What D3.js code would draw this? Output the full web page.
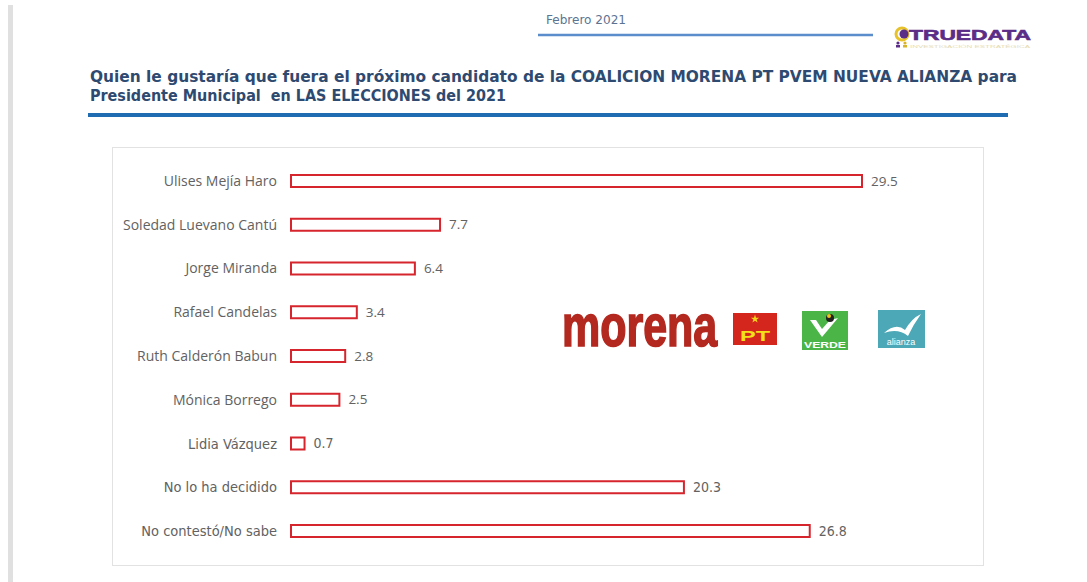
<!DOCTYPE html>
<html>
<head>
<meta charset="utf-8">
<script src="https://cdn.jsdelivr.net/npm/d3@7"></script>
<style>
  body { margin: 0; background: #fff; }
  svg { display: block; }
</style>
</head>
<body>
<svg width="1087" height="582"></svg>
<script>
var candidates = [
  "Ulises Mejía Haro",
  "Soledad Luevano Cantú",
  "Jorge Miranda",
  "Rafael Candelas",
  "Ruth Calderón Babun",
  "Mónica Borrego",
  "Lidia Vázquez",
  "No lo ha decidido",
  "No contestó/No sabe"
];
var percents = [29.5, 7.7, 6.4, 3.4, 2.8, 2.5, 0.7, 20.3, 26.8];
var narrowLabels = ["Lidia Vázquez", "No lo ha decidido", "No contestó/No sabe"];

var titleLines = [
  "Quien le gustaría que fuera el próximo candidato de la COALICION MORENA PT PVEM NUEVA ALIANZA para",
  "Presidente Municipal  en LAS ELECCIONES del 2021"
];

var dataset = candidates.map(function (c, i) {
  return {name: c, percent: percents[i]};
});

var wideFont = "'Open Sans', sans-serif";
var narrowFont = "'DejaVu Sans Condensed', sans-serif";
function isNarrow(name) { return narrowLabels.indexOf(name) >= 0; }

var svg = d3.select("svg");

// gray page edge on the left
svg.append("rect")
  .attr("x", 8).attr("y", 5)
  .attr("width", 5).attr("height", 577)
  .attr("fill", "#e0e0e0");

// header
svg.append("text")
  .attr("x", 546).attr("y", 24)
  .attr("font-family", narrowFont)
  .attr("font-size", 13)
  .attr("fill", "#5c7493")
  .attr("textLength", 80).attr("lengthAdjust", "spacingAndGlyphs")
  .text("Febrero 2021");

svg.append("line")
  .attr("x1", 538).attr("x2", 873)
  .attr("y1", 35).attr("y2", 35)
  .attr("stroke", "#5b8ccc").attr("stroke-width", 2.5);

// TRUEDATA logo
var logo = svg.append("g");
logo.append("circle").attr("cx", 902).attr("cy", 34).attr("r", 6)
  .attr("fill", "none").attr("stroke", "#e8c22a").attr("stroke-width", 3);
logo.append("circle").attr("cx", 904).attr("cy", 34).attr("r", 4.5)
  .attr("fill", "#5b2d86");
logo.append("text")
  .attr("x", 909).attr("y", 40)
  .attr("font-family", "'Liberation Sans', Arial, sans-serif")
  .attr("font-weight", "bold").attr("font-size", 15)
  .attr("fill", "#5b2d86")
  .attr("stroke", "#5b2d86").attr("stroke-width", 0.6)
  .attr("textLength", 122).attr("lengthAdjust", "spacingAndGlyphs")
  .text("TRUEDATA");
logo.append("circle").attr("cx", 898).attr("cy", 43).attr("r", 1.6).attr("fill", "#5b2d86");
logo.append("rect").attr("x", 896).attr("y", 45).attr("width", 4).attr("height", 2.5).attr("fill", "#5b2d86");
logo.append("circle").attr("cx", 905).attr("cy", 43).attr("r", 1.6).attr("fill", "#d9b32a");
logo.append("rect").attr("x", 903).attr("y", 45).attr("width", 4).attr("height", 2.5).attr("fill", "#d9b32a");
logo.append("text")
  .attr("x", 910).attr("y", 47.5)
  .attr("font-family", "'Liberation Sans', sans-serif")
  .attr("font-size", 4).attr("fill", "#e6dcb4")
  .attr("textLength", 120).attr("lengthAdjust", "spacingAndGlyphs")
  .text("INVESTIGACIÓN ESTRATÉGICA");

// title
svg.selectAll("text.title")
  .data(titleLines)
  .enter()
  .append("text")
  .attr("class", "title")
  .attr("x", 90)
  .attr("y", function (d, i) { return 82 + i * 19; })
  .attr("font-family", narrowFont)
  .attr("font-weight", "bold")
  .attr("font-size", 16)
  .attr("fill", "#2e4a70")
  .style("white-space", "pre")
  .attr("textLength", function (d, i) { return i === 0 ? 927 : 416; })
  .attr("lengthAdjust", "spacingAndGlyphs")
  .text(function (d) { return d; });

svg.append("line")
  .attr("x1", 88).attr("x2", 1008)
  .attr("y1", 115).attr("y2", 115)
  .attr("stroke", "#1f6cb3").attr("stroke-width", 4);

// chart frame
svg.append("rect")
  .attr("x", 112.5).attr("y", 147.5)
  .attr("width", 871).attr("height", 418)
  .attr("fill", "#fff")
  .attr("stroke", "#e2e2e2");

var x = d3.scaleLinear().domain([0, 29.5]).range([291, 862]);
var y = d3.scalePoint().domain(candidates).range([181, 531]);
var barH = 12;

var yAxis = d3.axisLeft(y).tickSize(0).tickPadding(14);
var axisG = svg.append("g")
  .attr("transform", "translate(291,0)")
  .call(yAxis);
axisG.select(".domain").remove();
axisG.selectAll("text")
  .attr("font-family", function (d) { return isNarrow(d) ? narrowFont : wideFont; })
  .attr("font-size", function (d) { return isNarrow(d) ? 14.5 : 14; })
  .attr("fill", "#626262");

svg.selectAll("rect.bar")
  .data(dataset)
  .enter()
  .append("rect")
  .attr("class", "bar")
  .attr("x", x(0))
  .attr("y", function (d) { return y(d.name) - barH / 2; })
  .attr("width", function (d) { return x(d.percent) - x(0); })
  .attr("height", barH)
  .attr("fill", "#fff")
  .attr("stroke", "#d6252d")
  .attr("stroke-width", 2);

svg.selectAll("text.value")
  .data(dataset)
  .enter()
  .append("text")
  .attr("class", "value")
  .attr("x", function (d) { return x(d.percent) + 9; })
  .attr("y", function (d) { return y(d.name); })
  .attr("dy", "0.35em")
  .attr("font-family", function (d) { return isNarrow(d.name) ? narrowFont : wideFont; })
  .attr("font-size", function (d) { return isNarrow(d.name) ? 14 : 13.5; })
  .attr("fill", "#626262")
  .text(function (d) { return d3.format(".1f")(d.percent); });

// party logos
var logos = svg.append("g");
logos.append("text")
  .attr("transform", "translate(562,346) scale(1,1.38)")
  .attr("font-family", "'Liberation Sans', sans-serif")
  .attr("font-weight", "bold")
  .attr("font-size", 43)
  .attr("fill", "#b3281f")
  .attr("stroke", "#b3281f").attr("stroke-width", 1.2)
  .text("morena");

logos.append("rect").attr("x", 733).attr("y", 313).attr("width", 44).attr("height", 32).attr("fill", "#d4261c");
logos.append("path")
  .attr("d", d3.symbol().type(d3.symbolStar).size(22)())
  .attr("transform", "translate(755,319)")
  .attr("fill", "#f4d51a");
logos.append("text")
  .attr("x", 755).attr("y", 341)
  .attr("text-anchor", "middle")
  .attr("font-family", "'Liberation Sans', sans-serif")
  .attr("font-weight", "bold").attr("font-size", 15)
  .attr("fill", "#f4e01a")
  .attr("textLength", 30).attr("lengthAdjust", "spacingAndGlyphs")
  .text("PT");

logos.append("rect").attr("x", 802).attr("y", 311).attr("width", 46).attr("height", 39).attr("fill", "#4bb548");
logos.append("path")
  .attr("d", "M810,320 L822,337 L838,318 L830,320 L822,329 L816,320 Z")
  .attr("fill", "#fff");
logos.append("circle").attr("cx", 830).attr("cy", 318).attr("r", 4).attr("fill", "#222");
logos.append("circle").attr("cx", 829).attr("cy", 316).attr("r", 2).attr("fill", "#f0c419");
logos.append("text")
  .attr("x", 825).attr("y", 348)
  .attr("text-anchor", "middle")
  .attr("font-family", "'Liberation Sans', sans-serif")
  .attr("font-weight", "bold").attr("font-size", 9)
  .attr("fill", "#fff")
  .attr("textLength", 42).attr("lengthAdjust", "spacingAndGlyphs")
  .text("VERDE");

logos.append("rect").attr("x", 878).attr("y", 310).attr("width", 47).attr("height", 38).attr("fill", "#4ca7b6");
logos.append("path")
  .attr("d", "M884,333 Q896,322 905,330 Q912,318 921,314 Q913,325 908,336 Q898,328 884,333 Z")
  .attr("fill", "#fff");
logos.append("text")
  .attr("x", 901).attr("y", 345)
  .attr("text-anchor", "middle")
  .attr("font-family", "'Liberation Sans', sans-serif")
  .attr("font-size", 9)
  .attr("fill", "#fff")
  .text("alianza");
</script>
</body>
</html>
